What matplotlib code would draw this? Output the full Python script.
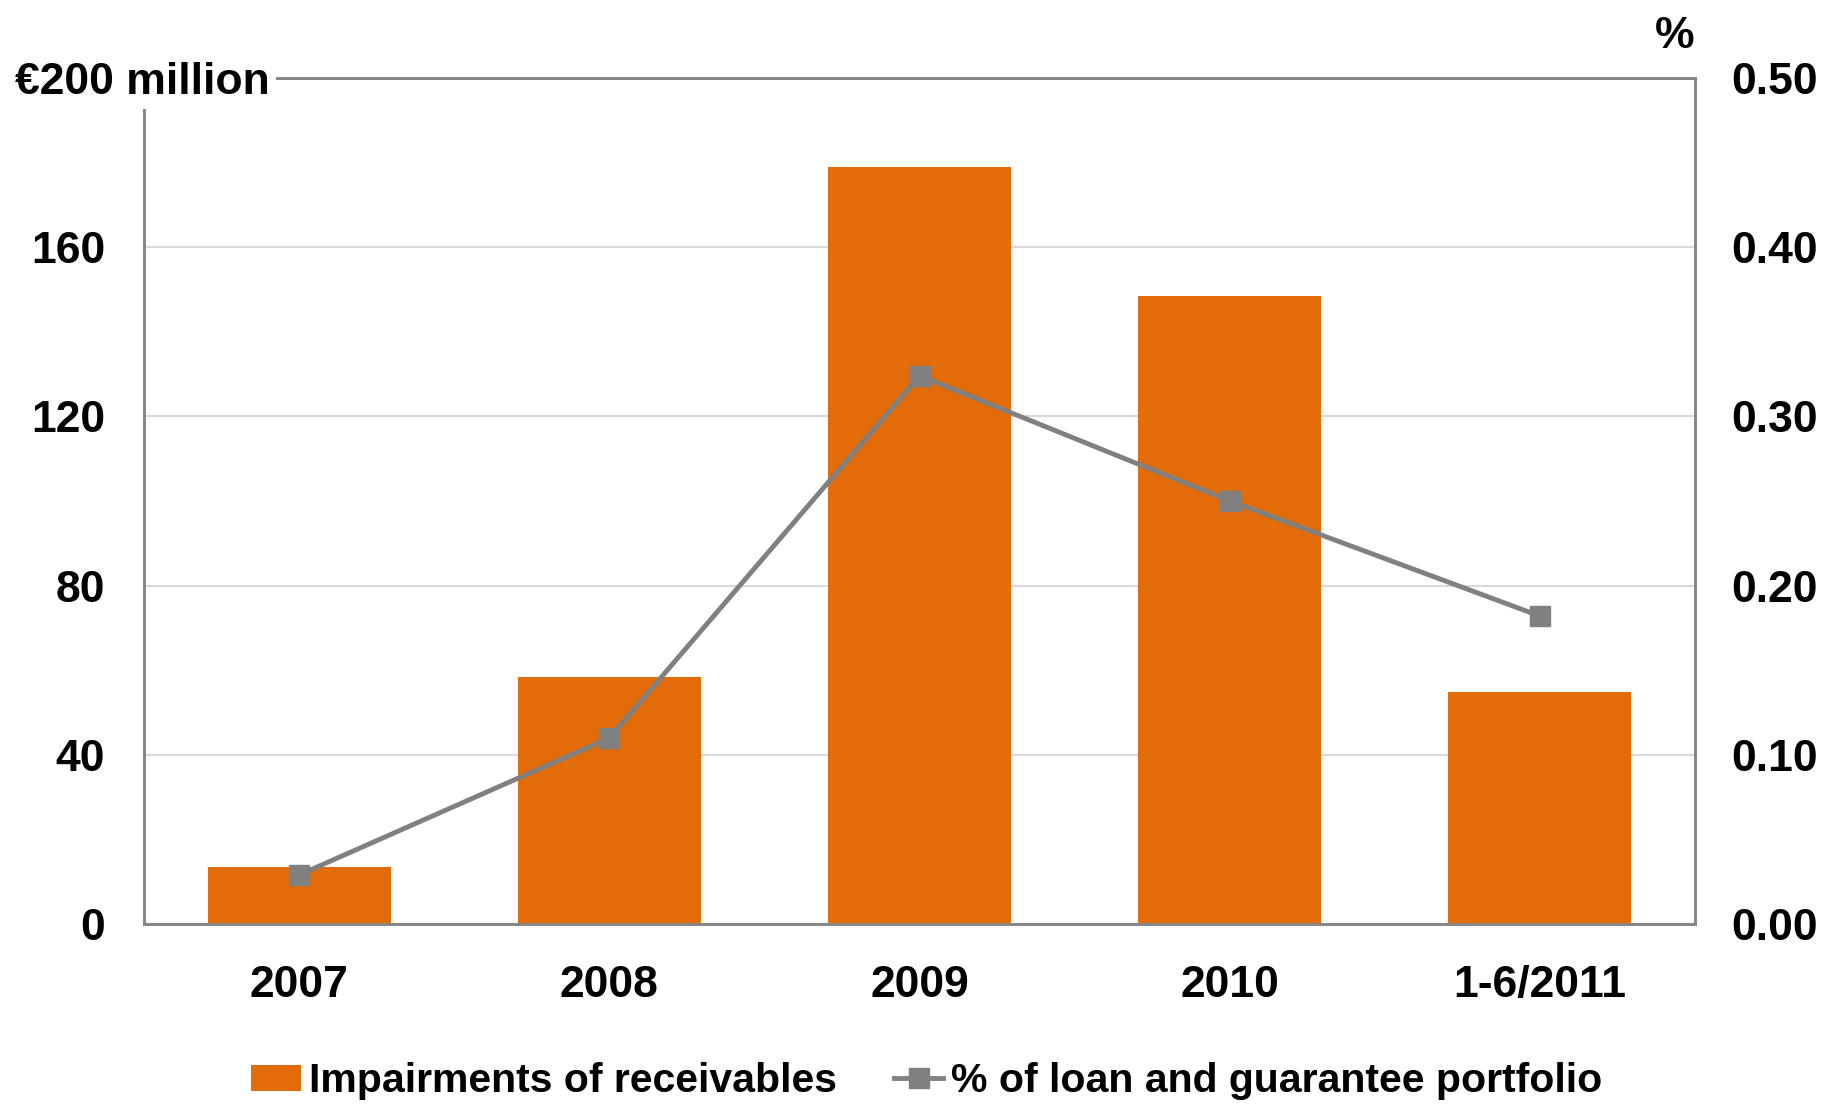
import matplotlib
matplotlib.use("Agg")
import matplotlib.pyplot as plt
from matplotlib.patches import Patch
from matplotlib.lines import Line2D

categories = ["2007", "2008", "2009", "2010", "1-6/2011"]
impairments = [13.5, 58.5, 179.0, 148.5, 54.8]
pct_portfolio = [0.029, 0.110, 0.324, 0.250, 0.182]
left_ticks = [0, 40, 80, 120, 160]
right_ticks = [0.0, 0.1, 0.2, 0.3, 0.4, 0.5]

plt.rcParams['font.family'] = ['Liberation Sans', 'DejaVu Sans']
plt.rcParams['font.weight'] = 'bold'

BAR_C = "#E36C0A"
LINE_C = "#808080"
SPINE_C = "#868686"
GRID_C = "#D9D9D9"

fig = plt.figure(figsize=(18.32, 11.06), dpi=100)
ax = fig.add_axes([144/1832, 1-924/1106, (1695-144)/1832, (924-78)/1106])
x = list(range(len(categories)))
ax.bar(x, impairments, width=0.59, color=BAR_C, zorder=3)
ax.set_xlim(-0.5, len(categories)-0.5)
ax.set_ylim(0, 200)
ax.set_yticks(left_ticks)
ax.set_yticklabels([str(v) for v in left_ticks])
ax.set_xticks(x)
ax.set_xticklabels(categories)
ax.tick_params(axis='both', length=0, labelsize=32, colors='black')
ax.tick_params(axis='y', pad=28)
ax.tick_params(axis='x', pad=29.5)
ax.yaxis.grid(True, color=GRID_C, lw=1.5, zorder=0)
ax.set_axisbelow(True)
for s in ax.spines.values():
    s.set_color(SPINE_C)
    s.set_linewidth(2)

ax2 = ax.twinx()
ax2.plot(x, pct_portfolio, color=LINE_C, lw=3.5, marker='s', markersize=14,
         markerfacecolor=LINE_C, markeredgecolor=LINE_C, zorder=4)
ax2.set_ylim(0, 0.5)
ax2.set_yticks(right_ticks)
ax2.set_yticklabels([f"{v:.2f}" for v in right_ticks])
ax2.tick_params(axis='y', length=0, labelsize=32, pad=26, colors='black')
for s in ax2.spines.values():
    s.set_color(SPINE_C)
    s.set_linewidth(2)

fig.text(15/1832, 1-82/1106, "€200 million", fontsize=32, fontweight='bold',
         ha='left', va='center',
         bbox=dict(boxstyle='square,pad=0.15', facecolor='white', edgecolor='none'))
fig.text(1675/1832, 1-36/1106, "%", fontsize=32, fontweight='bold',
         ha='center', va='center')

handles = [Patch(facecolor=BAR_C, edgecolor='none'),
           Line2D([0], [0], color=LINE_C, lw=3.5, marker='s', markersize=14)]
labels = ["Impairments of receivables", "% of loan and guarantee portfolio"]
fig.legend(handles, labels, loc='center', bbox_to_anchor=(927/1832, 1-1081/1106),
           ncol=2, frameon=False, fontsize=29.5, handlelength=1.2, handleheight=0.6,
           handletextpad=0.2, columnspacing=1.4)

fig.savefig("out.png", dpi=100)
